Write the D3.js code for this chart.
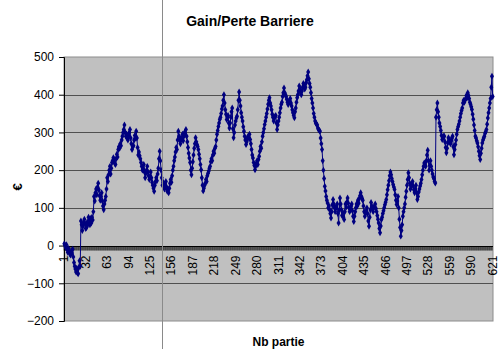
<!DOCTYPE html>
<html>
<head>
<meta charset="utf-8">
<script src="https://cdn.jsdelivr.net/npm/d3@7"></script>
<style>
  body { margin: 0; background: #fff; }
  text { font-family: Arial, "Liberation Sans", sans-serif; }
</style>
</head>
<body>
<div id="my_chart"></div>
<script>
// gain / perte cumule, une valeur par partie (1..621)
const gains = [
  5, 0, -5, 2, -10, -18, -8, -15, -22, -25,
  -15, -20, -10, -30, -45, -55, -62, -70, -60, -72,
  -75, -58, -40, -55, 65, 55, 40, 52, 62, 70,
  58, 45, 48, 62, 55, 75, 68, 55, 72, 60,
  75, 68, 90, 130, 118, 140, 150, 135, 155, 165,
  148, 132, 120, 130, 140, 118, 105, 95, 110, 120,
  130, 150, 180, 170, 188, 200, 210, 190, 205, 220,
  225, 233, 228, 218, 215, 230, 242, 235, 255, 262,
  258, 270, 265, 280, 290, 300, 308, 320, 300, 290,
  296, 285, 280, 290, 300, 308, 285, 270, 255, 262,
  265, 280, 292, 285, 303, 285, 260, 240, 248, 238,
  230, 220, 210, 200, 205, 215, 195, 180, 192, 200,
  210, 195, 185, 175, 182, 195, 180, 168, 160, 152,
  144, 160, 170, 180, 172, 190, 205, 230, 250, 225,
  200, 180, 160, 168, 157, 150, 162, 170, 155, 144,
  150, 140, 152, 165, 175, 168, 185, 200, 210, 225,
  235, 248, 260, 255, 280, 303, 290, 280, 270, 285,
  281, 295, 278, 290, 300, 295, 308, 290, 275, 260,
  245, 232, 220, 200, 188, 205, 222, 240, 258, 270,
  286, 275, 268, 263, 255, 242, 230, 215, 201, 180,
  160, 145, 152, 160, 165, 175, 170, 185, 192, 198,
  205, 210, 222, 230, 225, 240, 250, 245, 258, 263,
  280, 295, 305, 316, 325, 335, 340, 350, 362, 370,
  385, 400, 378, 360, 348, 334, 340, 345, 325, 312,
  325, 340, 355, 365, 310, 286, 300, 320, 330, 338,
  343, 360, 385, 407, 385, 370, 352, 340, 330, 315,
  303, 290, 280, 268, 275, 285, 290, 285, 295, 281,
  270, 255, 240, 232, 220, 212, 201, 210, 218, 225,
  215, 228, 237, 250, 263, 258, 275, 290, 300, 310,
  321, 330, 340, 350, 362, 375, 385, 392, 378, 370,
  360, 348, 340, 330, 338, 342, 345, 325, 308, 320,
  330, 340, 352, 365, 375, 380, 395, 405, 418, 405,
  400, 395, 388, 380, 374, 380, 385, 390, 378, 370,
  360, 352, 345, 339, 355, 365, 380, 392, 400, 410,
  423, 415, 405, 400, 410, 420, 430, 425, 415, 420,
  432, 440, 450, 460, 442, 430, 420, 405, 390, 378,
  365, 350, 340, 330, 325, 322, 320, 312, 308, 305,
  303, 285, 270, 255, 225, 200, 178, 157, 145, 130,
  120, 113, 100, 105, 95, 85, 73, 90, 108, 122,
  110, 100, 90, 98, 105, 110, 85, 60, 95, 126,
  110, 95, 80, 88, 75, 69, 90, 110, 102, 115,
  126, 112, 100, 90, 98, 105, 110, 92, 78, 64,
  78, 90, 100, 110, 105, 120, 112, 125, 132, 140,
  130, 125, 120, 105, 90, 78, 85, 92, 100, 85,
  65, 51, 75, 95, 114, 105, 98, 90, 100, 105,
  110, 98, 90, 80, 70, 60, 45, 34, 52, 69,
  75, 85, 92, 100, 108, 115, 122, 135, 148, 160,
  172, 185, 195, 188, 178, 170, 162, 155, 149, 135,
  120, 109, 118, 130, 100, 70, 48, 25, 40, 55,
  78, 90, 100, 110, 128, 144, 160, 175, 193, 180,
  165, 150, 158, 162, 170, 158, 148, 140, 150, 160,
  140, 122, 130, 142, 150, 158, 165, 175, 188, 200,
  210, 219, 215, 210, 225, 240, 253, 225, 200, 212,
  225, 210, 200, 190, 182, 178, 170, 166, 340, 360,
  378, 355, 340, 325, 316, 305, 292, 281, 285, 290,
  290, 275, 260, 246, 258, 272, 286, 280, 275, 270,
  278, 285, 290, 262, 241, 255, 268, 280, 295, 308,
  315, 322, 330, 340, 350, 358, 365, 378, 385, 380,
  385, 390, 398, 392, 405, 398, 390, 380, 375, 368,
  361, 348, 335, 320, 305, 290, 285, 278, 272, 262,
  250, 238, 228, 245, 258, 272, 280, 285, 290, 298,
  302, 308, 322, 338, 352, 365, 378, 390, 420, 449,
  395
];
const parties = gains.map((d, i) => i + 1);
const xLabels = [1, 32, 63, 94, 125, 156, 187, 218, 249, 280, 311, 342, 373, 404, 435, 466, 497, 528, 559, 590, 621];
const yTicks = [-200, -100, 0, 100, 200, 300, 400, 500];

const W = 499, H = 349;
const margin = {top: 57, right: 6, bottom: 28, left: 64};
const width = W - margin.left - margin.right,
  height = H - margin.top - margin.bottom;

const svg = d3.select("#my_chart")
  .append("svg")
  .attr("width", W)
  .attr("height", H);

const g = svg.append("g")
  .attr("transform", `translate(${margin.left}, ${margin.top})`);

const x = d3.scaleBand()
  .domain(parties)
  .range([0, width]);

const y = d3.scaleLinear()
  .domain([-200, 500])
  .range([height, 0]);

// plot area
g.append("rect")
  .attr("width", width)
  .attr("height", height)
  .attr("fill", "#c0c0c0")
  .attr("stroke", "#8c8c8c");

// gridlines
g.append("g")
  .selectAll("line")
  .data(yTicks.filter(d => d > -200 && d < 500 && d != 0))
  .enter()
  .append("line")
  .attr("x1", 0)
  .attr("x2", width)
  .attr("y1", d => Math.round(y(d)) + 0.5)
  .attr("y2", d => Math.round(y(d)) + 0.5)
  .attr("stroke", "#505050");

// y axis
const yAxis = g.append("g")
  .call(d3.axisLeft(y).tickValues(yTicks).tickSize(5).tickPadding(5));
yAxis.select(".domain").attr("stroke", "#000");
yAxis.selectAll("text").style("font-size", "12px").attr("fill", "#000");

// x axis at zero: one tick per partie
const y0 = Math.round(y(0)) + 0.5;
g.append("line")
  .attr("x1", 0).attr("x2", width)
  .attr("y1", y0).attr("y2", y0)
  .attr("stroke", "#000");
g.append("g")
  .selectAll("line")
  .data(parties)
  .enter()
  .append("line")
  .attr("x1", d => x(d))
  .attr("x2", d => x(d))
  .attr("y1", y0)
  .attr("y2", y0 + 4)
  .attr("stroke", "#000")
  .attr("stroke-width", 0.5);

g.append("g")
  .selectAll("text")
  .data(xLabels)
  .enter()
  .append("text")
  .attr("transform", d => `translate(${x(d) + x.bandwidth() / 2 + 4}, ${y0 + 9}) rotate(-90)`)
  .attr("text-anchor", "end")
  .style("font-size", "12px")
  .text(d => d);

// serie
const line = d3.line()
  .x((d, i) => x(parties[i]) + x.bandwidth() / 2)
  .y(d => y(d));

g.append("path")
  .datum(gains)
  .attr("d", line)
  .attr("fill", "none")
  .attr("stroke", "#000080")
  .attr("stroke-width", 1);

g.append("g")
  .selectAll("path")
  .data(gains)
  .enter()
  .append("path")
  .attr("d", d3.symbol().type(d3.symbolDiamond).size(14))
  .attr("transform", (d, i) => `translate(${x(parties[i]) + x.bandwidth() / 2}, ${y(d)})`)
  .attr("fill", "#000080");

// titles
svg.append("text")
  .attr("x", 250).attr("y", 26)
  .attr("text-anchor", "middle")
  .style("font-size", "14px").style("font-weight", "bold")
  .text("Gain/Perte Barriere");

svg.append("text")
  .attr("transform", `translate(22, 187) rotate(-90)`)
  .attr("text-anchor", "middle")
  .style("font-size", "13px").style("font-weight", "bold")
  .text("€");

svg.append("text")
  .attr("x", margin.left + width / 2).attr("y", 346)
  .attr("text-anchor", "middle")
  .style("font-size", "12px").style("font-weight", "bold")
  .text("Nb partie");

// trait vertical gris
svg.append("line")
  .attr("x1", 162.5).attr("x2", 162.5)
  .attr("y1", 0).attr("y2", H)
  .attr("stroke", "#8a8a8a");
</script>
</body>
</html>
